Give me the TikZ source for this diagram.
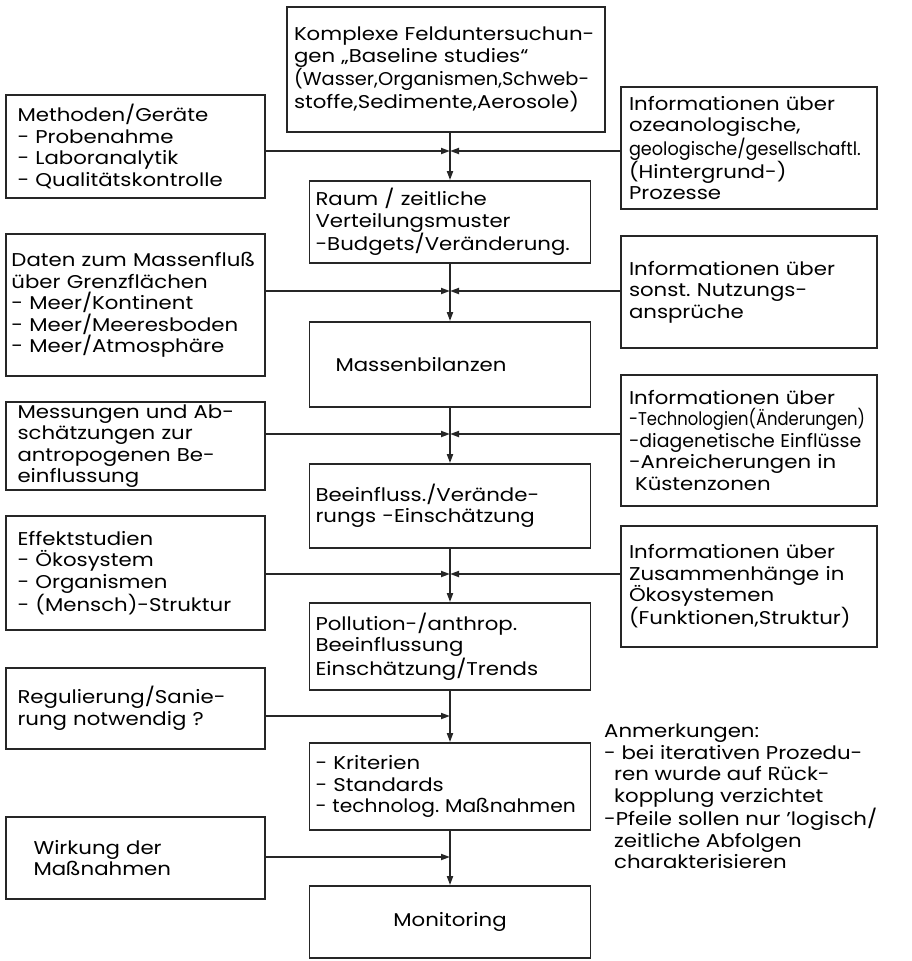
\documentclass[tikz,border=0pt]{standalone}
\usepackage{fontspec}
\setmainfont{Poppins}[FakeStretch=1.15]
\usetikzlibrary{arrows.meta}
\newcommand\lett{\fontsize{18.5}{21.5}\selectfont\frenchspacing}
\newcommand\squeeze[2][0.85]{\scalebox{#1}[1]{#2}}
\tikzset{
  box/.style={draw=black!85, line width=1.8pt, align=left, inner sep=0pt, font=\lett},
  lbox/.style={box, minimum width=259pt, text width=236pt},
  rbox/.style={box, minimum width=256pt, text width=240pt},
  cbox/.style={box, minimum width=281pt, text width=269pt},
  flow/.style={draw=black!85, line width=1.8pt, -{Triangle[length=9pt,width=6pt]}}
}
\begin{document}
\begin{tikzpicture}[x=1pt,y=-1pt]
  \useasboundingbox (0,0) rectangle (911,961);
  % main chain
  \node[box, minimum width=318pt, minimum height=125pt, text width=304pt] (b1) at (446,69.5)
    {Komplexe Felduntersuchun-\\gen „Baseline studies“\\\squeeze[0.91]{(Wasser,Organismen,Schweb-}\\stoffe,Sedimente,Aerosole)};
  \node[cbox, minimum height=82pt] (b2) at (450,222)
    {Raum / zeitliche\\Verteilungsmuster\\-Budgets/Veränderung.};
  \node[cbox, minimum height=85pt] (b3) at (450,364.5)
    {\hspace*{20pt}Massenbilanzen};
  \node[cbox, minimum height=84pt] (b4) at (450,506)
    {Beeinfluss./Verände-\\rungs -Einschätzung};
  \node[cbox, minimum height=87pt] (b5) at (450,646.5)
    {Pollution-/anthrop.\\Beeinflussung\\Einschätzung/Trends};
  \node[cbox, minimum height=87pt] (b6) at (450,786.5)
    {- Kriterien\\- Standards\\\squeeze[0.95]{- technolog. Maßnahmen}};
  \node[cbox, minimum height=72pt, align=center] (b7) at (450,922) {Monitoring};
  % inputs from the left
  \node[lbox, minimum height=103pt] (l1) at (135.5,146.5)
    {Methoden/Geräte\\- Probenahme\\- Laboranalytik\\- Qualitätskontrolle};
  \node[lbox, minimum height=142pt, text width=248pt] (l2) at (135.5,305)
    {Daten zum Massenfluß\\über Grenzflächen\\- Meer/Kontinent\\- Meer/Meeresboden\\- Meer/Atmosphäre};
  \node[lbox, minimum height=88pt] (l3) at (135.5,446)
    {Messungen und Ab-\\schätzungen zur\\antropogenen Be-\\einflussung};
  \node[lbox, minimum height=114pt] (l4) at (135.5,573)
    {Effektstudien\\- Ökosystem\\- Organismen\\- (Mensch)-Struktur};
  \node[lbox, minimum height=81pt] (l5) at (135.5,708.5)
    {Regulierung/Sanie-\\rung notwendig ?};
  \node[lbox, minimum height=82pt, text width=204pt] (l6) at (135.5,858)
    {Wirkung der\\Maßnahmen};
  % inputs from the right
  \node[rbox, minimum height=122pt] (r1) at (749,148)
    {Informationen über\\ozeanologische,\\\squeeze[0.83]{geologische/gesellschaftl.}\\(Hintergrund-)\\Prozesse};
  \node[rbox, minimum height=112pt] (r2) at (749,292)
    {Informationen über\\sonst. Nutzungs-\\ansprüche};
  \node[rbox, minimum height=131pt] (r3) at (749,440.5)
    {Informationen über\\\squeeze[0.77]{-Technologien(Änderungen)}\\\squeeze[0.89]{-diagenetische Einflüsse}\\-Anreicherungen in\\\hspace*{6pt}Küstenzonen};
  \node[rbox, minimum height=121pt] (r4) at (749,586.5)
    {Informationen über\\Zusammenhänge in\\Ökosystemen\\(Funktionen,Struktur)};
  % remarks
  \node[font=\lett, align=left, anchor=north west, inner sep=0pt] (notes) at (604,724)
    {Anmerkungen:\\- bei iterativen Prozedu-\\\hspace*{10pt}ren wurde auf Rück-\\\hspace*{10pt}kopplung verzichtet\\-Pfeile sollen nur 'logisch/\\\hspace*{10pt}zeitliche Abfolgen\\\hspace*{10pt}charakterisieren};
  % junctions on the main line
  \coordinate (j1) at (450,151);
  \coordinate (j2) at (450,291);
  \coordinate (j3) at (450,434);
  \coordinate (j4) at (450,574);
  \coordinate (j5) at (450,716);
  \coordinate (j6) at (450,857);
  % arrows
  \draw[flow] (j1 |- b1.south) -- (b2.north);
  \draw[flow] (b2) -- (b3);
  \draw[flow] (b3) -- (b4);
  \draw[flow] (b4) -- (b5);
  \draw[flow] (b5) -- (b6);
  \draw[flow] (b6) -- (b7);
  \draw[flow] (l1.east |- j1) -- (j1);
  \draw[flow] (r1.west |- j1) -- (j1);
  \draw[flow] (l2.east |- j2) -- (j2);
  \draw[flow] (r2.west |- j2) -- (j2);
  \draw[flow] (l3.east |- j3) -- (j3);
  \draw[flow] (r3.west |- j3) -- (j3);
  \draw[flow] (l4.east |- j4) -- (j4);
  \draw[flow] (r4.west |- j4) -- (j4);
  \draw[flow] (l5.east |- j5) -- (j5);
  \draw[flow] (l6.east |- j6) -- (j6);
\end{tikzpicture}
\end{document}
